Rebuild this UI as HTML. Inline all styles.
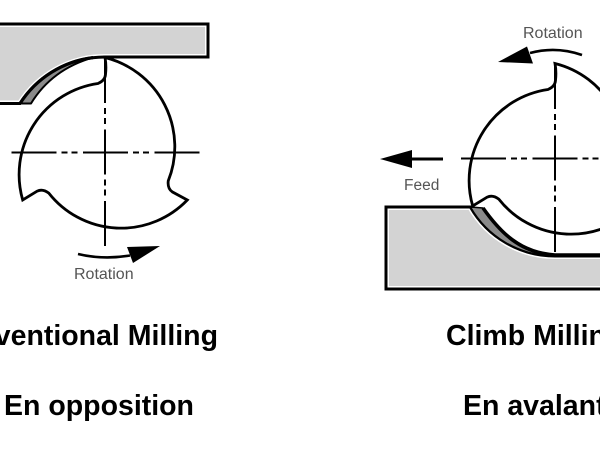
<!DOCTYPE html>
<html><head><meta charset="utf-8"><style>
html,body{margin:0;padding:0;background:#fff;}
svg{display:block;}
</style></head><body>
<svg width="600" height="450" viewBox="0 0 600 450" xmlns="http://www.w3.org/2000/svg">
<defs>
<clipPath id="cl"><path d="M-10,24 H208 V57 H105 A101,101 0 0 0 20,103.5 H-10 Z"/></clipPath>
<clipPath id="cr"><path d="M386,207 H470.4 A97.5,97.5 0 0 0 555,256 H610 V289 H386 Z"/></clipPath>
</defs>
<rect width="600" height="450" fill="#fff"/>

<!-- LEFT workpiece -->
<path d="M-10,24 H208 V57 H105 A101,101 0 0 0 20,103.5 H-10 Z" fill="#d3d3d3"/>
<path d="M-10,24 H208 V57 H105 A101,101 0 0 0 20,103.5 H-10 Z" fill="none" stroke="#fff" stroke-width="6" clip-path="url(#cl)"/>
<path d="M-10,24 H208 V57 H105 A101,101 0 0 0 20,103.5 H-10 Z" fill="none" stroke="#000" stroke-width="3"/>
<!-- left chip -->
<path d="M20,103.5 A101,101 0 0 1 93,57.6 Q52,69.25 31,103.5 Z" fill="#8a8a8a" stroke="#000" stroke-width="2" stroke-linejoin="round"/>
<path d="M20,103.5 A101,101 0 0 1 93,57.6" fill="none" stroke="#000" stroke-width="3.2"/>

<!-- LEFT cutter -->
<g transform="translate(105,152.5)">
<path d="M0,-95 A92,92 0 0 1 63.25,28.4 Q62.35,36 67.3,39.4 L82.3,47.5 A92,92 0 0 1 -56.2,40.6 Q-62.4,36 -67.75,38.6 L-82.3,47.5 A92,92 0 0 1 -7,-69 Q0,-72 0.5,-78 Q1.5,-87 0,-95 Z" fill="#fff" stroke="#000" stroke-width="2.8" stroke-linejoin="miter"/>
</g>
<!-- left center lines -->
<line x1="105" y1="58" x2="105" y2="247" stroke="#000" stroke-width="2" stroke-dasharray="45 5 6 4 6 5.5"/>
<line x1="11.5" y1="152.5" x2="200" y2="152.5" stroke="#000" stroke-width="2" stroke-dasharray="45 5 6 4 6 5.5"/>

<!-- left rotation arrow -->
<path d="M78,254 Q103,260 130,255.5" fill="none" stroke="#000" stroke-width="2.6"/>
<polygon points="127,247 160,246 133,263" fill="#000"/>
<text x="74" y="279" font-family="Liberation Sans, sans-serif" font-size="16" fill="#555">Rotation</text>

<!-- RIGHT workpiece -->
<path d="M386,207 H470.4 A97.5,97.5 0 0 0 555,256 H610 V289 H386 Z" fill="#d3d3d3"/>
<path d="M386,207 H470.4 A97.5,97.5 0 0 0 555,256 H610 V289 H386 Z" fill="none" stroke="#fff" stroke-width="6" clip-path="url(#cr)"/>
<path d="M386,207 H470.4 A97.5,97.5 0 0 0 555,256 H610 V289 H386 Z" fill="none" stroke="#000" stroke-width="3"/>
<!-- right chip -->
<path d="M470.4,207 A97.5,97.5 0 0 0 553,256 L555,255 C520,253 500,232 483,208 Z" fill="#8a8a8a" stroke="#000" stroke-width="1.6" stroke-linejoin="round"/>
<path d="M483,208 C500,232 520,253 555,255 H610" fill="none" stroke="#000" stroke-width="3.6"/>

<!-- RIGHT cutter -->
<g transform="translate(555,158.5)">
<path d="M0,-95 A92,92 0 0 1 63.25,28.4 Q62.35,36 67.3,39.4 L82.3,47.5 A92,92 0 0 1 -56.2,40.6 Q-62.4,36 -67.75,38.6 L-82.3,47.5 A92,92 0 0 1 -7,-69 Q0,-72 0.5,-78 Q1.5,-87 0,-95 Z" fill="#fff" stroke="#000" stroke-width="2.8" stroke-linejoin="miter"/>
</g>
<line x1="555" y1="64" x2="555" y2="254" stroke="#000" stroke-width="2" stroke-dasharray="45 5 6 4 6 5.5"/>
<line x1="461" y1="158.5" x2="600" y2="158.5" stroke="#000" stroke-width="2" stroke-dasharray="45 5 6 4 6 5.5"/>

<!-- right rotation arrow -->
<path d="M582,55 Q556,46 530,53" fill="none" stroke="#000" stroke-width="2.6"/>
<polygon points="498,62 527,46.5 533,63.5" fill="#000"/>
<text x="523" y="38" font-family="Liberation Sans, sans-serif" font-size="16" fill="#555">Rotation</text>

<!-- feed arrow -->
<line x1="408" y1="159" x2="443" y2="159" stroke="#000" stroke-width="3"/>
<polygon points="380,159 412,150 412,168" fill="#000"/>
<text x="404" y="190" font-family="Liberation Sans, sans-serif" font-size="15.5" fill="#555">Feed</text>

<!-- labels -->
<text x="218" y="345" text-anchor="end" font-family="Liberation Sans, Arial, sans-serif" font-weight="bold" font-size="28.5" fill="#000">Conventional Milling</text>
<text x="4" y="415" font-family="Liberation Sans, Arial, sans-serif" font-weight="bold" font-size="28.5" fill="#000">En opposition</text>
<text x="446" y="345" font-family="Liberation Sans, Arial, sans-serif" font-weight="bold" font-size="28.5" fill="#000">Climb Milling</text>
<text x="463" y="415" font-family="Liberation Sans, Arial, sans-serif" font-weight="bold" font-size="28.5" fill="#000">En avalant</text>
</svg>
</body></html>
